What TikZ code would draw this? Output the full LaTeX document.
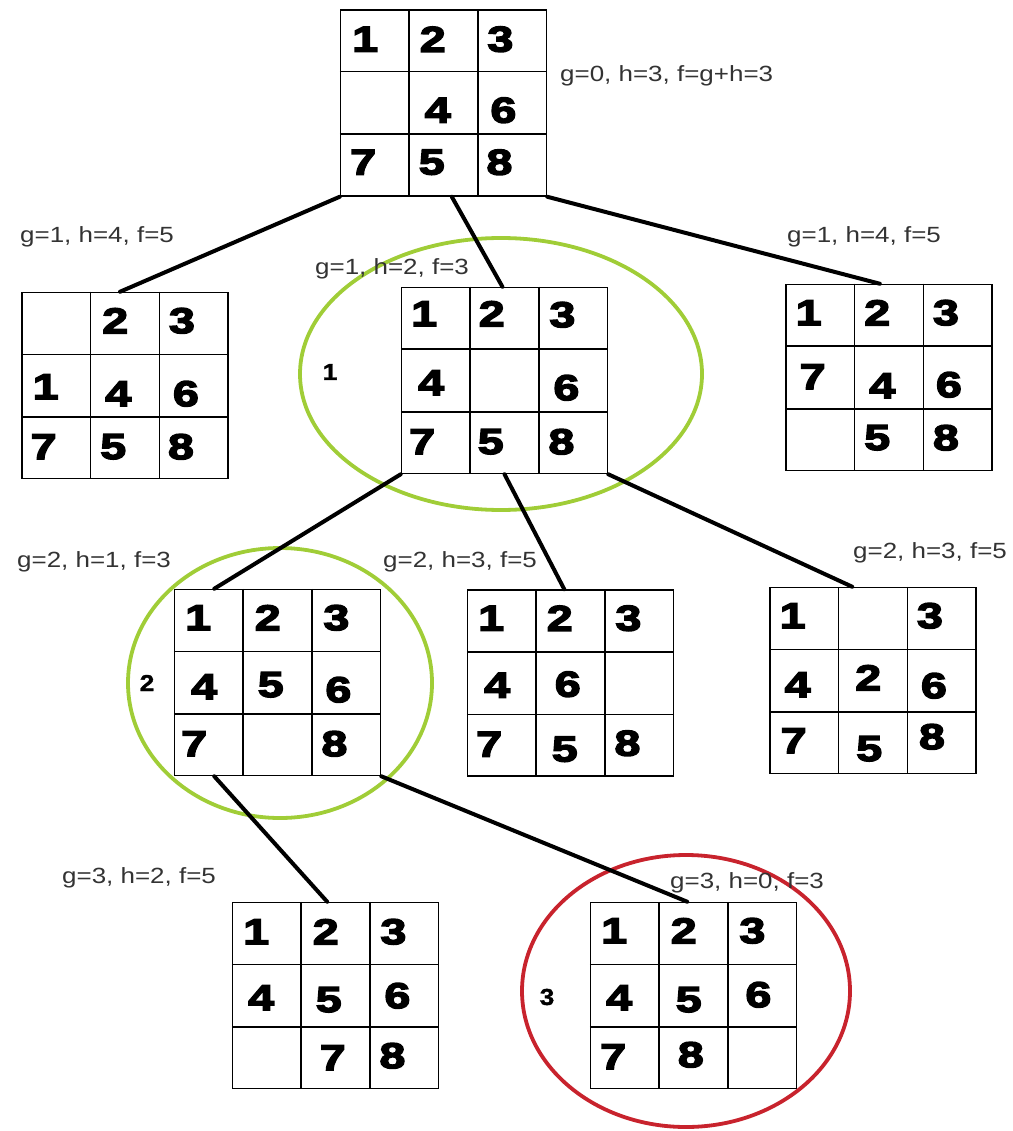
\documentclass[tikz,border=0pt]{standalone}
\usepackage{fontspec}
\usepackage{tikz}
\usetikzlibrary{calc}

\newfontfamily\tilefont{Liberation Sans}[UprightFont=* Bold,FakeStretch=1.3,FakeBold=4]
\newfontfamily\notefont{Liberation Sans}[FakeStretch=1.18]
\newfontfamily\markfont{Liberation Sans}[UprightFont=* Bold,FakeStretch=1.15,FakeBold=1.5]

\definecolor{ringgreen}{RGB}{160,205,55}
\definecolor{ringred}{RGB}{200,35,45}

\begin{document}
\begin{tikzpicture}[x=1pt,y=-1pt,
  board/.style={draw,line width=1.5pt,minimum width=206pt,minimum height=186pt,inner sep=0pt},
  gridline/.style={line width=1.5pt},
  tile/.style={inner sep=0pt,font=\tilefont\fontsize{36}{36}\selectfont},
  note/.style={anchor=base west,inner sep=0pt,text=black!80,font=\notefont\fontsize{22}{22}\selectfont},
  stepmark/.style={inner sep=0pt,font=\markfont\fontsize{23}{23}\selectfont},
  link/.style={line width=4pt,line cap=round},
  ring/.style={line width=3.8pt}]

\useasboundingbox (0,0) rectangle (1012,1131);

%% Rings around the chosen states
\draw[ring,ringgreen] (501,374) ellipse [x radius=201,y radius=136];
\draw[ring,ringgreen] (280,683) ellipse [x radius=152,y radius=135];
\draw[ring,ringred] (686,991) ellipse [x radius=164,y radius=136];

%% Boards
\node[board] (A) at (443.5,103) {};
\node[board] (B) at (125,385.5) {};
\node[board] (C) at (504.5,380.5) {};
\node[board] (D) at (889,377.5) {};
\node[board] (E) at (277.5,682.5) {};
\node[board] (F) at (570.5,683) {};
\node[board] (G) at (873,680.5) {};
\node[board] (H) at (335.5,995.5) {};
\node[board] (I) at (693.5,995.5) {};

%% Inner grid lines
\foreach \b in {A,B,C,D,E,F,G,H,I}{
  \foreach \k in {1,2}{
    \draw[gridline] ($(\b.north west)!\k/3!(\b.north east)$) -- ($(\b.south west)!\k/3!(\b.south east)$);
    \draw[gridline] ($(\b.north west)!\k/3!(\b.south west)$) -- ($(\b.north east)!\k/3!(\b.south east)$);
  }
}

%% Tiles: board/digit/column/row/dx/dy
\foreach \b/\d/\c/\r/\dx/\dy in {
  A/1/1/1/-9/-1, A/2/2/1/-10/-1, A/3/3/1/-11/-1, A/4/2/2/-5/8, A/6/3/2/-8/8,
  A/7/1/3/-11/-2, A/5/2/3/-11/-2, A/8/3/3/-12/-2,
  B/2/2/1/-9/-2, B/3/3/1/-11/-2, B/1/1/2/-10/2, B/4/2/2/-6/9, B/6/3/2/-7/9,
  B/7/1/3/-12/0, B/5/2/3/-11/0, B/8/3/3/-12/0,
  C/1/1/1/-11/-4, C/2/2/1/-12/-4, C/3/3/1/-10/-3, C/4/1/2/-4/3, C/6/3/2/-6/8,
  C/7/1/3/-13/0, C/5/2/3/-13/0, C/8/3/3/-11/0,
  D/1/1/1/-11/-2, D/2/2/1/-11/-2, D/3/3/1/-11/-2, D/7/1/2/-7/0, D/4/2/2/-6/9,
  D/6/3/2/-8/8, D/5/2/3/-11/-1, D/8/3/3/-11/-1,
  E/1/1/1/-10/-2, E/2/2/1/-9/-2, E/3/3/1/-9/-2, E/4/1/2/-4/5, E/5/2/2/-6/3,
  E/6/3/2/-7/8, E/7/1/3/-14/0, E/8/3/3/-11/0,
  F/1/1/1/-10/-2, F/2/2/1/-10/-2, F/3/3/1/-10/-2, F/4/1/2/-4/3, F/6/2/2/-2/2,
  F/7/1/3/-12/0, F/5/2/3/-5/5, F/8/3/3/-11/-1,
  G/1/1/1/-11/-2, G/3/3/1/-11/-2, G/4/1/2/-6/5, G/2/2/2/-4/-2, G/6/3/2/-7/6,
  G/7/1/3/-10/-1, G/5/2/3/-3/7, G/8/3/3/-9/-5,
  H/1/1/1/-10/-1, H/2/2/1/-9/-1, H/3/3/1/-10/-1, H/4/1/2/-5/3, H/5/2/2/-6/5,
  H/6/3/2/-6/1, H/7/2/3/-2/1, H/8/3/3/-11/-1,
  I/1/1/1/-10/-2, I/2/2/1/-9/-2, I/3/3/1/-9/-2, I/4/1/2/-5/3, I/5/2/2/-4/5,
  I/6/3/2/-3/0, I/7/1/3/-11/0, I/8/2/3/-2/-2}{
  \node[tile] (\b\d) at ($(\b.north west)+(\c*68.67-34.33+\dx,\r*62-31+\dy)$) {\d};
}

%% Search tree edges
\draw[link] (A.south west) -- ($(B.north west)!0.476!(B.north east)$);
\draw[link] ($(A.south west)!0.54!(A.south east)$) -- ($(C.north west)!0.49!(C.north east)$);
\draw[link] (A.south east) -- ($(D.north west)!0.456!(D.north east)$);
\draw[link] (C.south west) -- ($(E.north west)!0.195!(E.north east)$);
\draw[link] (C.south) -- ($(F.north west)!0.47!(F.north east)$);
\draw[link] (C.south east) -- ($(G.north west)!0.40!(G.north east)$);
\draw[link] ($(E.south west)!0.195!(E.south east)$) -- ($(H.north west)!0.46!(H.north east)$);
\draw[link] (E.south east) -- ($(I.north west)!0.47!(I.north east)$);

%% Cost labels
\node[note] (lA) at (560,82) {g=0, h=3, f=g+h=3};
\node[note] (lB) at (20,243) {g=1, h=4, f=5};
\node[note] (lC) at (315,275) {g=1, h=2, f=3};
\node[note] (lD) at (787,243) {g=1, h=4, f=5};
\node[note] (lE) at (17,567) {g=2, h=1, f=3};
\node[note] (lF) at (383,567) {g=2, h=3, f=5};
\node[note] (lG) at (853,558) {g=2, h=3, f=5};
\node[note] (lH) at (62,883) {g=3, h=2, f=5};
\node[note] (lI) at (670,888) {g=3, h=0, f=3};

%% Step numbers
\node[stepmark] (s1) at (330,372) {1};
\node[stepmark] (s2) at (147,683) {2};
\node[stepmark] (s3) at (547,997) {3};

\end{tikzpicture}
\end{document}
